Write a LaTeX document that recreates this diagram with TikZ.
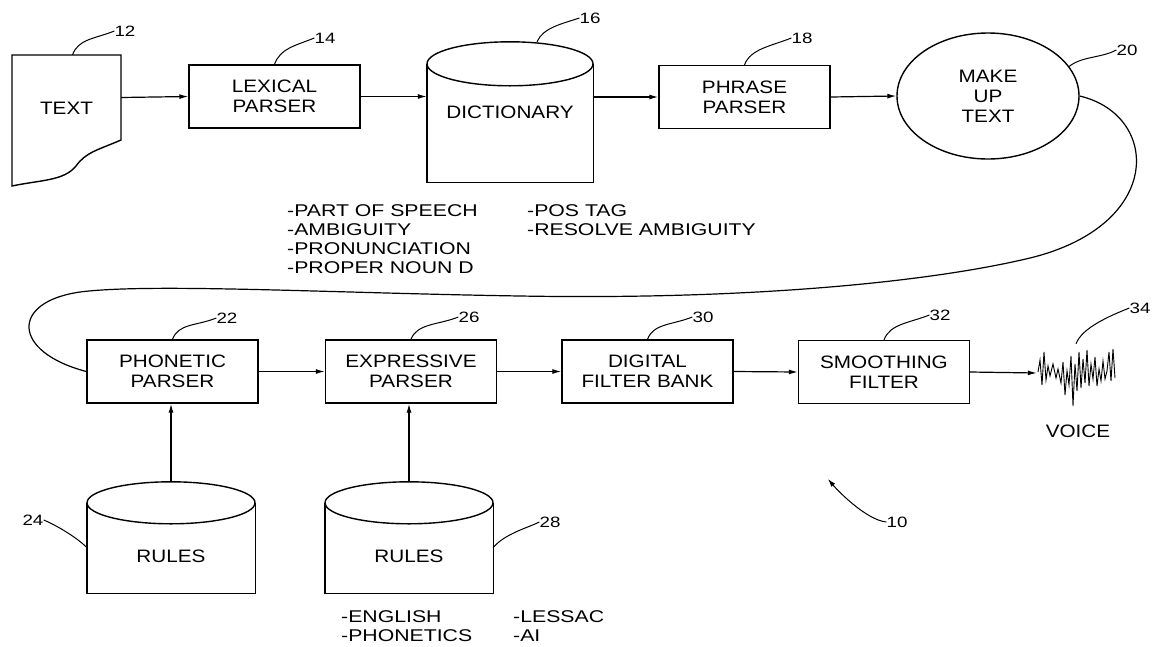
\documentclass[tikz,border=0pt]{standalone}
\usepackage{fontspec}
\setmainfont{Liberation Sans}[FakeStretch=1.15]
\newfontfamily\listfont{Liberation Sans}[FakeStretch=1.25]
\usetikzlibrary{arrows.meta,shapes.geometric}

\tikzset{
  box/.style={draw, line width=1.4pt, minimum width=171pt, minimum height=63pt, align=center, inner sep=0},
  drum/.style={minimum width=#1, inner sep=0, align=center},
  arr/.style={line width=1.2pt, -{Latex[length=9pt,width=5pt]}},
  lead/.style={line width=1pt},
  num/.style={font=\listfont\fontsize{15}{18}\selectfont, inner sep=0},
  lst/.style={font=\listfont\fontsize{17}{19}\selectfont, align=left, anchor=north west, inner sep=0},
}
% open cylinder: sides, flat bottom, elliptic top
\newcommand{\drumoutline}[3]{%
  \draw[line width=1.4pt] ([yshift=-#3]#1.north west) -- (#1.south west) -- (#1.south east) -- ([yshift=-#3]#1.north east);
  \draw[line width=1.4pt] ([yshift=-#3]#1.north) ellipse [x radius=#2, y radius=#3];
}

\begin{document}
\begin{tikzpicture}[x=1pt, y=-1pt, font=\fontsize{18}{20}\selectfont]
   \useasboundingbox (0,0) rectangle (1157,646);

   % Top row
   \draw[line width=1.4pt] (12,55) -- (121,55) -- (121,140) .. controls (98,150) and (86,152) .. (76,166)
      .. controls (64,181) and (40,180) .. (12,186) -- cycle;
   \node[minimum width=109pt, minimum height=85pt, inner sep=0] (doc) at (66.5,97.5) {\raisebox{-17pt}[0pt][0pt]{TEXT}};
   \node[box] (lex) at (274.5,96.5) {LEXICAL\\PARSER};
   \node[drum=166pt, minimum height=140pt] (dict) at (510,112) {DICTIONARY};
   \drumoutline{dict}{83pt}{22pt}
   \node[box] (phr) at (744.5,97) {PHRASE\\PARSER};
   \node[ellipse, draw, line width=1.4pt, minimum width=182pt, minimum height=126pt, inner sep=0, align=center] (mkup) at (988,96) {MAKE\\UP\\TEXT};

   \draw[arr] (doc.east) -- (lex.west);
   \draw[arr] (lex.east) -- (lex.east -| dict.west);
   \draw[arr] (dict.east |- phr.west) -- (phr.west);
   \draw[arr] (phr.east) -- (mkup.west);

   \node[lst] (dictnotes) at (287,204) {-PART OF SPEECH\\-AMBIGUITY\\-PRONUNCIATION\\-PROPER NOUN D};
   \node[lst] (posnotes) at (527,204) {-POS TAG\\-RESOLVE AMBIGUITY};

   % Bottom row
   \node[box] (phon) at (172.5,371.5) {PHONETIC\\PARSER};
   \node[box] (expr) at (411,371.5) {EXPRESSIVE\\PARSER};
   \node[box] (dfb) at (647.5,371.5) {DIGITAL\\FILTER BANK};
   \node[box] (smf) at (884,372) {SMOOTHING\\FILTER};
   \node[minimum width=78pt, minimum height=58pt, inner sep=0] (voice) at (1076,373) {};
   \node (voicelbl) at (1078,431) {VOICE};
   \draw[line width=0.9pt] plot coordinates {(1038,372) (1040,360) (1042,385) (1044,352) (1046,380) (1048,366)
      (1050,376) (1053,364) (1056,378) (1058,369) (1061,383) (1063,362) (1065,395) (1067,371) (1069,385)
      (1071,356) (1073,406) (1075,364) (1077,391) (1079,352) (1081,388) (1083,359) (1085,383) (1087,350)
      (1089,386) (1091,364) (1093,379) (1095,357) (1097,386) (1099,369) (1101,381) (1103,361) (1105,379)
      (1107,371) (1109,352) (1111,381) (1113,349) (1115,378)};

   \draw[arr] (phon.east) -- (expr.west);
   \draw[arr] (expr.east) -- (dfb.west);
   \draw[arr] (dfb.east) -- (smf.west);
   \draw[arr] (smf.east) -- (voice.west);

   \node[drum=168pt, minimum height=111pt] (r24) at (171,537.5) {\raisebox{-25pt}[0pt][0pt]{RULES}};
   \drumoutline{r24}{84pt}{21pt}
   \node[drum=168pt, minimum height=111pt] (r28) at (409,537.5) {\raisebox{-25pt}[0pt][0pt]{RULES}};
   \drumoutline{r28}{84pt}{21pt}
   \draw[arr] (r24.north) -- (r24.north |- phon.south);
   \draw[arr] (r28.north) -- (r28.north |- expr.south);

   \node[lst] (rulenotes) at (341,610) {-ENGLISH\\-PHONETICS};
   \node[lst] (lessnotes) at (513,610) {-LESSAC\\-AI};

   % Loop from make-up text back to the phonetic parser
   \draw[line width=1.2pt] (mkup.east) .. controls (1160,115) and (1165,225) .. (1030,258)
      .. controls (930,282) and (750,300) .. (520,296) .. controls (330,293) and (150,283) .. (80,292)
      .. controls (10,302) and (12,352) .. (phon.west);

   % Reference numerals
   \foreach \n/\x/\y/\from in {14/325/38/lex, 18/802/38/phr, 22/227/318/phon, 26/469/317/expr,
         30/703/317/dfb, 32/940/315/smf, 34/1140/308/voice} {
      \node[num] (n\n) at (\x,\y) {\n};
      \draw[lead] (\from.north) .. controls +(6,-16) and +(-20,8) .. (n\n.west);
   }
   \node[num] (n12) at (125,31) {12};
   \draw[lead] ([xshift=6pt]doc.north) .. controls +(6,-16) and +(-20,8) .. (n12.west);
   \node[num] (n16) at (590,18) {16};
   \draw[lead] ([xshift=27pt]dict.north) .. controls +(6,-14) and +(-18,6) .. (n16.west);
   \node[num] (n20) at (1127,50) {20};
   \draw[lead] (mkup.20) .. controls +(12,-10) and +(-15,8) .. (n20.west);
   \node[num] (n24) at (33,520) {24};
   \draw[lead] (n24.east) .. controls +(8,3) and +(-12,-12) .. ([yshift=-10pt]r24.west);
   \node[num] (n28) at (550,522) {28};
   \draw[lead] ([yshift=-10pt]r28.east) .. controls +(12,-14) and +(-12,6) .. (n28.west);
   \node[num] (n10) at (897,522) {10};
   \coordinate (sys) at (828,479);
   \draw[lead, -{Latex[length=8pt,width=5pt]}] (n10.west) .. controls +(-20,-2) and +(10,12) .. (sys);
\end{tikzpicture}
\end{document}
